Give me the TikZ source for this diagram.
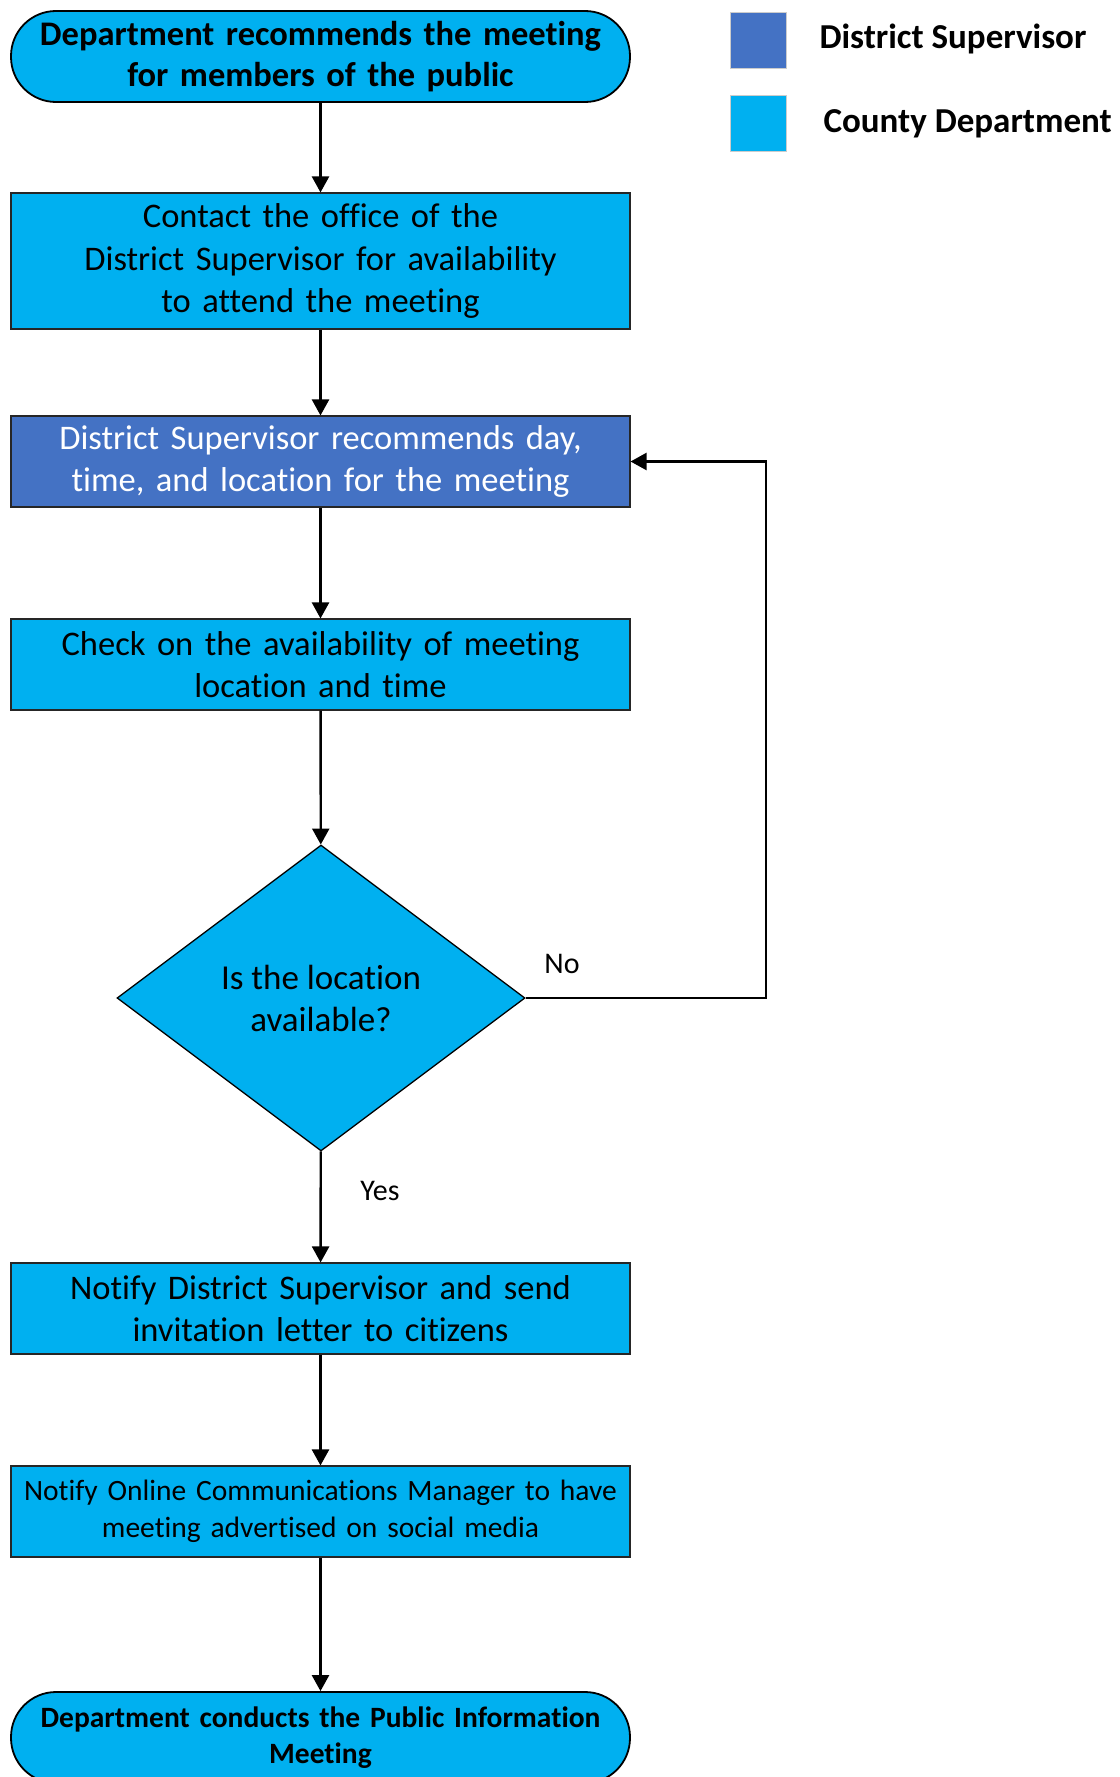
\documentclass[tikz,border=0pt]{standalone}
\usepackage{fontspec}
\setmainfont{Carlito}[Ligatures=CommonOff]
\usetikzlibrary{arrows.meta,shapes.geometric}
\definecolor{deptblue}{HTML}{00B0F0}
\definecolor{supblue}{HTML}{4472C4}
\begin{document}
\begin{tikzpicture}[x=1pt,y=-1pt,
  base/.style={inner sep=0pt, minimum width=619pt, align=center, text width=610pt},
  terminal/.style={base, draw=black, line width=1.8pt, fill=deptblue, rounded corners=45pt,
                   minimum height=91pt, font=\fontsize{34.5}{41}\selectfont\bfseries},
  deptbox/.style={base, draw=black!85, line width=1.1pt, fill=deptblue, minimum height=91pt,
                  font=\fontsize{34.5}{42.5}\selectfont},
  supbox/.style={deptbox, fill=supblue, text=white},
  decision/.style={diamond, draw=black, line width=1.3pt, fill=deptblue, inner sep=0pt,
                   minimum width=408pt, minimum height=306pt, align=center,
                   font=\fontsize{35}{42}\selectfont},
  flow/.style={draw=black, line width=2.4pt, -{Triangle[length=16pt,width=17pt]}},
  lbl/.style={font=\fontsize{30}{34}\selectfont},
  swatch/.style={draw=black!20, line width=0.8pt, minimum width=56pt, minimum height=56pt, inner sep=0pt},
  legtext/.style={anchor=west, font=\fontsize{35}{40}\selectfont\bfseries}]
\useasboundingbox (0,0) rectangle (1119,1777);
\clip (0,0) rectangle (1119,1777);

% flow steps
\node[terminal] (start) at (320.5,56.5) {Department recommends the meeting\\for members of the public};
\node[deptbox, minimum height=136pt] (contact) at (320.5,261) {Contact the office of the\\District Supervisor for availability\\to attend the meeting};
\node[supbox] (recommend) at (320.5,461.5) {District Supervisor recommends day,\\time, and location for the meeting};
\node[deptbox] (check) at (320.5,664.5) {Check on the availability of meeting\\location and time};
\node[decision] (avail) at (321,998) {Is the location\\available?};
\node[deptbox] (notify) at (320.5,1308.5) {Notify District Supervisor and send\\invitation letter to citizens};
\node[deptbox, font=\fontsize{29.5}{37}\selectfont] (online) at (320.5,1511.5) {Notify Online Communications Manager to have\\meeting advertised on social media};
\node[terminal, font=\fontsize{29.5}{36}\selectfont\bfseries] (conduct) at (320.5,1737.5) {Department conducts the Public Information\\Meeting};

% connectors
\draw[flow] (start) -- (contact);
\draw[flow] (contact) -- (recommend);
\draw[flow] (recommend) -- (check);
\draw[flow] (check) -- (avail);
\draw[flow] (avail) -- (notify);
\draw[flow] (notify) -- (online);
\draw[flow] (online) -- (conduct);
\coordinate (loop) at (766,998);
\draw[flow] (avail.east) -- (loop) |- (recommend.east);

\node[lbl] (no) at (562,964) {No};
\node[lbl] (yes) at (380,1191) {Yes};

% legend
\node[swatch, fill=supblue] (sw1) at (758,40) {};
\node[swatch, fill=deptblue] (sw2) at (758,123) {};
\node[legtext] (l1) at (816,39) {District Supervisor};
\node[legtext] (l2) at (820,124) {County Department};
\end{tikzpicture}
\end{document}
